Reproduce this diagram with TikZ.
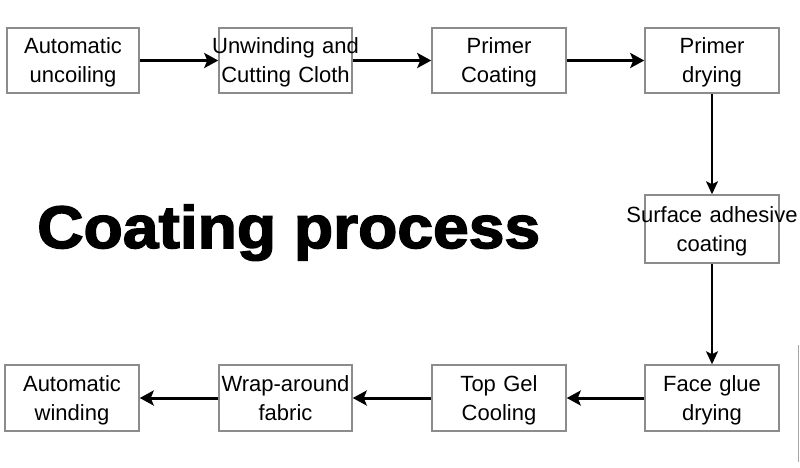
\documentclass[tikz,border=0pt]{standalone}
\usepackage{fontspec}
\setmainfont{Liberation Sans}
\newfontfamily\titlefont[FakeBold=2.5,FakeStretch=1.07]{Liberation Sans}
\usetikzlibrary{arrows.meta}
\newcommand{\twolines}[2]{\makebox[\linewidth]{#1}\\\makebox[\linewidth]{#2}}
\tikzset{
  stepbox/.style={draw=black!45, line width=1.5pt, fill=white, minimum width=134pt,
    text width=134pt, minimum height=65pt, inner sep=0pt, align=center,
    text height=16pt, text depth=29.2pt,
    font=\fontsize{22}{29}\selectfont},
  harrow/.style={line width=3pt, -{Stealth[length=14pt,width=15pt,inset=3pt]}},
  varrow/.style={line width=2pt, -{Stealth[length=13pt,width=12pt,inset=3pt]}}
}
\begin{document}
\begin{tikzpicture}[x=1pt,y=-1pt]
\useasboundingbox (0,0) rectangle (800,467);
\fill[white] (0,0) rectangle (800,467);
\node[stepbox, minimum width=132pt, text width=132pt] (b1) at (73,60.5) {\twolines{Automatic}{uncoiling}};
\node[stepbox, minimum width=133pt, text width=133pt] (b2) at (285.5,60.5) {\twolines{Unwinding and}{Cutting Cloth}};
\node[stepbox] (b3) at (499,60.5) {\twolines{Primer}{Coating}};
\node[stepbox] (b4) at (712,60.5) {\twolines{Primer}{drying}};
\node[stepbox, minimum height=68pt] (b5) at (712,229) {\twolines{Surface adhesive}{coating}};
\node[stepbox, minimum height=66pt] (b6) at (712,398) {\twolines{Face glue}{drying}};
\node[stepbox, minimum height=66pt] (b7) at (72,398) {\twolines{Automatic}{winding}};
\node[stepbox, minimum width=133pt, text width=133pt, minimum height=66pt] (b8) at (285.5,398) {\twolines{Wrap-around}{fabric}};
\node[stepbox, minimum height=66pt] (b9) at (499,398) {\twolines{Top Gel}{Cooling}};
\node[anchor=base west, inner sep=0pt, font=\titlefont\bfseries\fontsize{60}{60}\selectfont] (title) at (37,248) {Coating process};
\draw[harrow] (b1.east) -- (b2.west);
\draw[harrow] (b2.east) -- (b3.west);
\draw[harrow] (b3.east) -- (b4.west);
\draw[varrow] (b4.south) -- (b5.north);
\draw[varrow] (b5.south) -- (b6.north);
\draw[harrow] (b6.west) -- (b9.east);
\draw[harrow] (b9.west) -- (b8.east);
\draw[harrow] (b8.west) -- (b7.east);
\coordinate (e1) at (798,345);
\coordinate (e2) at (798,462);
\draw[black!35, line width=1pt] (e1) -- (e2);
\end{tikzpicture}
\end{document}
